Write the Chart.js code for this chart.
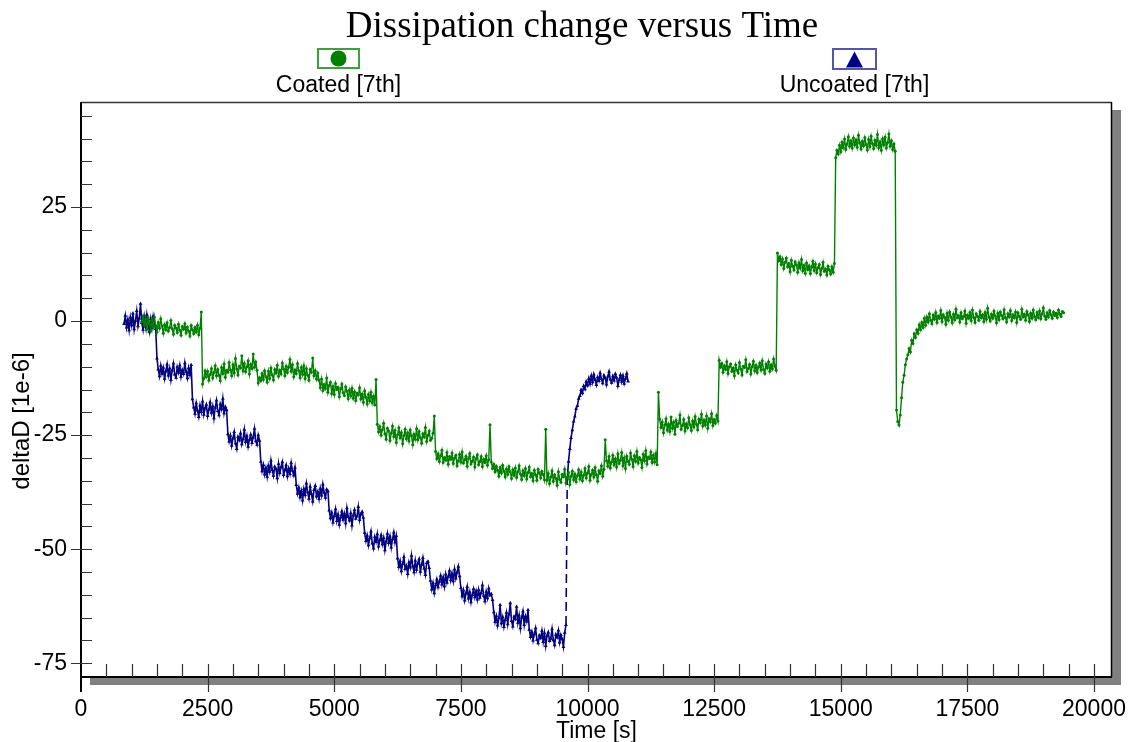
<!DOCTYPE html>
<html><head><meta charset="utf-8">
<script src="https://cdn.jsdelivr.net/npm/chart.js@4.4.0/dist/chart.umd.min.js"></script>
<style>html,body{margin:0;padding:0;background:#fff}#wrap{width:1128px;height:742px;position:relative}</style>
</head><body><div id="wrap"><canvas id="c" width="1128" height="742"></canvas></div>
<script>
const chartTitle = 'Dissipation change versus Time';
const xTitle = 'Time [s]';
const yTitle = 'deltaD [1e-6]';
const seriesNames = ['Coated [7th]', 'Uncoated [7th]'];
const seriesColors = ['#008000', '#000080'];

// sampling of the measurement: first time stamp and interval in seconds
const coatedStart = 1200, coatedStep = 25;
const coatedValues = [
 -0.2,1.1,-0.9,0.4,-1.8,0.7,-0.6,-2.1,0.2,-1.3,0.9,-1.0,-2.4,-0.3,-1.6,0.5,-1.1,-2.7,-0.8,-1.9,-0.4,-2.2,-1.4,0.1,
 -1.7,-2.9,-0.9,-1.5,-2.5,-0.7,-2.0,-3.1,-1.2,-1.8,-0.6,-2.6,-1.3,-2.2,-3.3,-1.0,-1.9,-2.8,-1.4,-2.4,-0.9,-3.0,-1.6,2.0,
 -13.8,-12.6,-10.9,-12.2,-11.0,-13.0,-11.7,-10.4,-12.5,-11.3,-9.8,-12.0,-10.6,-11.9,-13.1,-10.2,-11.5,-9.4,-12.3,-10.8,-11.2,-9.1,
 -10.7,-12.0,-9.6,-11.4,-8.2,-10.5,-11.8,-9.9,-10.3,-7.6,-10.9,-9.3,-11.1,-10.0,-8.7,-11.6,-9.5,-10.4,-7.2,-10.1,-9.0,-10.8,
 -13.6,-12.4,-13.1,-11.5,-12.8,-10.9,-12.2,-13.4,-11.0,-12.6,-10.3,-11.8,-12.9,-10.6,-11.4,-9.7,-12.1,-10.8,-11.6,-9.2,-10.5,-12.0,-9.9,-11.3,
 -10.1,-8.4,-11.0,-9.6,-12.2,-10.7,-11.5,-9.3,-10.9,-12.4,-10.2,-11.7,-9.8,-12.6,-10.4,-11.9,-13.0,-10.6,-11.2,-8.1,-12.0,-10.9,-12.7,-11.4,
 -13.0,-14.6,-12.7,-15.2,-13.9,-14.8,-12.5,-15.6,-14.1,-13.4,-15.9,-14.3,-16.1,-13.7,-15.0,-14.5,-16.6,-14.9,-13.8,-15.7,-16.3,-14.4,-15.4,
 -17.0,-15.1,-16.4,-14.7,-16.9,-15.5,-17.4,-15.8,-16.2,-14.6,-17.1,-16.0,-17.8,-15.3,-16.7,-18.2,-16.1,-17.5,-15.6,-17.9,-16.5,-18.4,-12.8,
 -22.6,-24.3,-23.1,-25.0,-23.8,-22.4,-24.7,-25.9,-23.5,-24.1,-26.2,-24.6,-23.0,-25.3,-24.0,-26.6,-24.9,-23.4,-25.6,-24.4,-26.9,-25.1,-23.7,
 -25.8,-24.5,-26.3,-23.9,-25.2,-27.1,-24.8,-25.9,-23.6,-26.0,-24.2,-25.5,-26.8,-24.7,-25.4,-23.3,-26.4,-25.0,-24.1,-26.1,-25.7,-24.6,-20.8,
 -28.6,-30.2,-29.1,-30.8,-29.5,-28.3,-31.0,-29.9,-30.5,-28.8,-31.4,-29.7,-30.3,-28.9,-31.2,-30.0,-29.4,-31.7,-30.6,-29.2,-30.9,-28.7,
 -31.1,-30.4,-29.6,-31.8,-30.1,-29.0,-31.3,-30.7,-29.8,-32.0,-30.2,-29.3,-31.5,-30.8,-29.7,-31.9,-30.3,-31.0,-29.5,-31.6,-30.4,-22.7,
 -30.9,-32.3,-31.4,-33.0,-31.8,-32.7,-34.0,-32.1,-33.3,-31.6,-32.9,-34.2,-32.4,-33.6,-31.9,-33.1,-34.5,-32.6,-33.8,-32.2,-34.3,-33.0,
 -31.7,-33.5,-34.7,-32.8,-33.9,-32.3,-34.6,-33.2,-32.0,-34.1,-33.4,-35.0,-32.7,-33.7,-34.9,-32.5,-33.3,-34.4,-32.9,-33.6,-34.8,-23.7,
 -34.9,-33.4,-35.6,-34.2,-32.8,-35.1,-33.7,-34.5,-36.0,-33.0,-34.7,-35.3,-33.6,-34.1,-32.5,-35.5,-34.3,-33.2,-35.8,-34.0,-32.9,-34.8,-33.5,
 -35.2,-33.9,-32.6,-34.6,-33.1,-35.0,-33.8,-32.3,-34.4,-33.3,-31.9,-34.9,-33.6,-32.7,-34.2,-32.1,-33.7,-35.1,-32.8,-33.4,-31.7,-34.0,-32.5,
 -26.0,-30.6,-31.8,-29.7,-32.2,-30.9,-29.4,-31.5,-30.2,-32.0,-29.1,-31.2,-30.5,-28.8,-31.7,-30.0,-32.3,-29.6,-30.8,-31.4,-28.9,
 -30.3,-31.9,-29.5,-30.7,-28.6,-31.1,-29.9,-30.4,-32.1,-29.2,-30.6,-28.4,-31.3,-29.8,-30.1,-28.7,-31.0,-29.4,-30.9,-29.0,-31.5,
 -15.6,-21.5,-23.3,-22.1,-24.5,-22.8,-21.4,-23.9,-22.6,-24.2,-21.0,-23.5,-22.2,-24.8,-21.8,-23.1,-22.4,-20.6,-23.7,-22.9,-21.6,-24.1,-22.5,-23.4,
 -21.2,-22.7,-24.0,-21.9,-23.2,-20.9,-22.6,-23.8,-21.5,-22.3,-20.4,-23.0,-21.7,-22.8,-20.8,-23.5,-21.4,-22.1,-20.3,-22.9,-21.6,-22.4,-20.7,-21.9,
 -8.6,-10.1,-9.3,-11.2,-9.8,-10.6,-8.9,-11.5,-10.0,-9.4,-11.0,-10.3,-12.0,-9.6,-10.8,-11.4,-9.1,-10.5,-11.8,-9.9,-10.2,-8.5,-11.1,
 -10.4,-9.5,-11.6,-10.0,-8.8,-10.9,-9.7,-11.3,-10.1,-9.2,-10.7,-8.7,-10.6,-11.5,-9.4,-10.3,-8.9,-11.0,-9.6,-10.5,-8.3,-9.9,-10.8,
 14.9,13.2,14.1,12.4,13.6,11.5,12.9,13.8,11.9,12.6,10.8,13.3,12.0,11.2,13.0,12.3,10.7,12.8,11.6,13.5,11.0,12.2,10.5,
 12.7,11.3,12.1,10.4,11.8,13.1,11.1,12.5,10.6,11.7,12.4,10.2,11.5,12.9,10.9,11.4,10.1,12.0,11.2,10.3,11.9,10.7,12.6,
 35.8,37.4,36.6,38.5,37.1,39.2,38.0,39.9,37.6,38.8,40.4,38.3,39.5,37.9,40.1,38.6,39.7,38.1,40.7,39.0,37.7,39.4,38.4,40.2,
 38.7,37.5,39.8,38.2,40.5,38.9,37.8,39.6,38.5,40.9,38.0,39.3,37.4,39.9,38.6,40.3,37.9,39.1,41.0,38.3,39.5,37.6,38.8,37.2,
 -19.5,-22.0,-22.8,-20.6,-16.8,-13.4,-11.9,-9.6,-8.3,-7.4,-6.0,-6.8,-4.2,-4.9,-2.8,-3.6,-1.9,-2.7,-0.8,-1.9,
 -0.3,-1.4,0.6,-0.9,0.9,-0.2,1.6,0.2,-0.6,1.3,
 0.4,1.9,-0.3,1.1,0.6,2.3,-0.1,1.4,0.8,-0.7,1.7,0.2,2.0,0.9,-0.4,1.5,0.3,2.6,0.7,1.2,
 -0.2,1.8,0.5,1.0,2.2,-0.5,1.3,0.6,1.9,0.1,2.4,0.8,-0.3,1.6,1.0,0.2,2.1,0.7,1.4,-0.1,
 1.9,0.4,2.8,0.9,0.0,1.5,0.6,2.2,1.1,-0.4,1.7,0.3,2.0,1.2,0.5,2.5,0.8,-0.2,1.6,0.9,
 2.3,0.1,1.4,0.7,2.0,-0.3,1.8,1.0,0.4,2.6,0.9,1.5,0.2,2.1,1.3,-0.1,1.7,0.6,2.4,1.0,
 0.3,1.9,0.8,2.2,0.5,1.6,2.9,1.1,0.4,1.8,0.9,2.3,1.4,0.6,2.0,1.2,1.7,0.8,2.4,1.5,
 1.0,2.1,1.8
];

const uncoatedStart = 850, uncoatedStep = 25;
const uncoatedValues = [
 -0.6,1.2,-1.4,0.3,-2.0,0.8,-0.9,1.7,-1.8,0.1,2.2,-1.1,0.6,3.8,-0.4,-1.9,0.9,-1.2,1.4,-0.7,-2.3,0.4,-1.5,1.0,-0.8,-1.7,
 -8.2,-10.6,-12.1,-9.8,-11.5,-10.2,-12.6,-11.0,-9.5,-11.9,-10.4,-12.9,-10.8,-9.3,-11.7,-12.4,-10.1,-11.3,-9.7,-12.2,-10.7,-11.6,-9.2,-11.1,-12.5,-10.3,-11.8,-9.6,
 -17.1,-18.9,-20.3,-18.0,-19.6,-21.0,-18.5,-19.9,-17.6,-20.5,-19.1,-18.3,-20.8,-19.4,-17.8,-20.1,-18.7,-21.3,-19.0,-17.4,-19.7,-20.6,-18.2,-19.3,-17.0,-20.2,-18.8,-19.5,
 -24.8,-26.4,-25.1,-27.3,-25.7,-24.3,-26.8,-28.0,-25.4,-26.1,-24.6,-27.0,-25.9,-23.8,-26.5,-25.2,-27.5,-26.0,-24.9,-26.7,-25.5,-23.6,-26.3,-27.1,-25.0,-26.2,
 -30.8,-32.9,-31.5,-33.6,-32.2,-34.1,-31.7,-33.0,-30.6,-32.6,-33.9,-31.9,-32.4,-34.4,-31.3,-33.3,-32.0,-30.9,-33.7,-32.7,-31.6,-34.0,-32.3,-33.5,-31.1,-32.8,-33.8,-32.1,
 -35.9,-37.8,-36.5,-38.6,-37.2,-39.3,-36.8,-38.1,-35.6,-37.5,-38.9,-36.3,-37.9,-39.5,-37.0,-36.1,-38.4,-37.4,-39.0,-36.7,-38.2,-35.8,-37.6,-38.7,-36.9,-37.3,
 -41.5,-43.2,-42.0,-44.1,-42.7,-41.2,-43.8,-42.4,-44.6,-43.0,-41.7,-43.5,-42.2,-44.3,-41.0,-42.9,-43.7,-42.1,-44.8,-42.6,-41.4,-43.3,-42.8,-40.7,-43.6,-42.3,-41.8,-43.1,
 -46.4,-48.2,-47.0,-49.1,-47.6,-46.1,-48.7,-49.8,-47.3,-48.4,-46.7,-49.4,-48.0,-46.9,-48.9,-47.5,-50.2,-48.3,-46.6,-48.6,-47.2,-49.6,-47.8,-46.3,-48.5,-47.1,
 -52.0,-53.9,-52.6,-54.8,-53.2,-51.7,-54.3,-53.6,-55.4,-52.9,-54.0,-51.4,-53.7,-55.0,-52.5,-54.5,-53.1,-52.2,-54.9,-53.4,-51.9,-54.2,-55.6,-53.0,-52.7,-54.1,
 -56.9,-58.8,-57.4,-59.6,-57.9,-56.6,-58.3,-57.1,-55.8,-57.7,-56.2,-58.1,-55.5,-57.3,-56.0,-54.7,-56.8,-55.3,-57.0,-54.4,-56.4,-55.1,-53.8,-55.9,
 -58.5,-60.3,-59.0,-61.2,-59.7,-58.2,-60.8,-59.4,-61.6,-60.0,-58.7,-60.5,-59.2,-61.0,-58.9,-60.6,-59.6,-57.9,-60.2,-61.4,-59.3,-60.7,-58.6,-60.1,-59.8,-61.1,
 -63.8,-65.9,-64.6,-66.7,-65.1,-62.2,-66.2,-64.9,-67.0,-65.5,-63.9,-66.4,-64.3,-61.8,-65.7,-66.9,-64.8,-65.3,-62.6,-66.1,-64.5,-67.3,-65.0,-63.6,-66.6,-64.7,-65.8,-63.3,
 -67.6,-69.2,-68.1,-70.0,-68.6,-67.3,-69.8,-70.6,-68.9,-69.5,-67.9,-70.3,-68.4,-71.2,-69.0,-68.2,-70.1,-69.6,-67.5,-69.9,-71.0,-68.7,-69.3,-67.8,-70.4,-68.8,-69.7,-71.4,-68.3,-66.6,
 -34.5,-30.8,-28.0,-25.6,-23.9,-22.0,-20.9,-19.2,-18.6,-17.0,-16.4,-15.1,-15.8,-14.2,-14.9,-13.3,-14.1,
 -12.6,-13.8,-12.0,-13.4,-11.7,-12.9,-14.0,-12.3,-13.1,-11.4,-12.7,-13.6,-11.9,-12.5,-13.9,-12.2,-11.1,-12.8,-13.5,-12.1,-13.0,-11.6,-12.4,-14.2,-12.9,-11.8,-13.3,-12.0,-13.7,-12.6,-11.5,-13.2
];

const xTickValues = [0, 2500, 5000, 7500, 10000, 12500, 15000, 17500, 20000];
const yTickValues = [-75, -50, -25, 0, 25];
const xRange = [0, 20355];
const yRange = [-78, 48];

const toPoints = (start, step, vals) => vals.map((v, i) => ({x: start + i * step, y: v}));

const FONT = '"Liberation Sans", Arial, sans-serif';

const decor = {
  id: 'decor',
  beforeDraw(chart) {
    const {ctx, chartArea: a} = chart;
    ctx.save();
    ctx.fillStyle = '#fff';
    ctx.fillRect(0, 0, chart.width, chart.height);
    ctx.fillStyle = '#808080';
    ctx.fillRect(a.left + 9, a.bottom, a.right - a.left, 8);
    ctx.fillRect(a.right, a.top + 8, 9, a.bottom - a.top);
    ctx.restore();
  },
  afterDraw(chart) {
    const {ctx, chartArea: a, scales} = chart;
    const xs = scales.x, ys = scales.y;
    ctx.save();
    // frame
    ctx.strokeStyle = '#333';
    ctx.lineWidth = 1.5;
    ctx.beginPath();
    ctx.moveTo(a.left, a.top + 0.5); ctx.lineTo(a.right, a.top + 0.5);
    ctx.stroke();
    ctx.strokeStyle = '#000';
    ctx.beginPath();
    ctx.moveTo(a.right - 0.5, a.top); ctx.lineTo(a.right - 0.5, a.bottom);
    ctx.stroke();
    ctx.lineWidth = 2;
    ctx.beginPath();
    ctx.moveTo(a.left, a.top); ctx.lineTo(a.left, a.bottom + 15);
    ctx.moveTo(a.left, a.bottom); ctx.lineTo(a.right, a.bottom);
    ctx.stroke();
    // tick marks
    ctx.strokeStyle = '#333';
    ctx.lineWidth = 1.2;
    ctx.beginPath();
    for (let v = 500; v <= 20000; v += 500) {
      const px = Math.round(xs.getPixelForValue(v)) + 0.5;
      const major = v % 2500 === 0;
      ctx.moveTo(px, a.bottom - 13);
      ctx.lineTo(px, major ? a.bottom + 15 : a.bottom);
    }
    for (let v = -75; v <= 45; v += 5) {
      const py = Math.round(ys.getPixelForValue(v)) + 0.5;
      const major = v % 25 === 0;
      ctx.moveTo(major ? a.left - 10 : a.left, py);
      ctx.lineTo(a.left + 11, py);
    }
    ctx.stroke();
    // title
    ctx.fillStyle = '#000';
    ctx.font = '37px "Liberation Serif", "Times New Roman", serif';
    ctx.textAlign = 'center';
    ctx.textBaseline = 'alphabetic';
    ctx.fillText(chartTitle, 582, 37);
    // legend
    const ds = chart.data.datasets;
    const boxes = [[318, 49, 41, 19], [833, 49, 43, 20]];
    ds.forEach((d, i) => {
      const [bx, by, bw, bh] = boxes[i];
      ctx.lineWidth = 2;
      ctx.strokeStyle = i === 0 ? '#3f9f3f' : '#5555aa';
      ctx.strokeRect(bx, by, bw, bh);
      ctx.fillStyle = d.borderColor;
      const cx = bx + bw / 2, cy = by + bh / 2;
      ctx.beginPath();
      if (i === 0) {
        ctx.arc(cx, cy, 8, 0, Math.PI * 2);
      } else {
        ctx.moveTo(cx, cy - 7.5); ctx.lineTo(cx + 8.5, cy + 8.5); ctx.lineTo(cx - 8.5, cy + 8.5); ctx.closePath();
      }
      ctx.fill();
      ctx.fillStyle = '#000';
      ctx.font = '23px ' + FONT;
      ctx.textAlign = 'center';
      ctx.textBaseline = 'middle';
      ctx.fillText(d.label, cx, 86);
    });
    // y axis title
    ctx.save();
    ctx.translate(22, 421);
    ctx.rotate(-Math.PI / 2);
    ctx.font = '24px ' + FONT;
    ctx.textAlign = 'center';
    ctx.textBaseline = 'middle';
    ctx.fillText(yTitle, 0, 0);
    ctx.restore();
    ctx.restore();
  }
};

new Chart(document.getElementById('c'), {
  type: 'line',
  data: {
    datasets: [
      {
        label: seriesNames[0],
        data: toPoints(coatedStart, coatedStep, coatedValues),
        borderColor: seriesColors[0],
        backgroundColor: seriesColors[0],
        borderWidth: 1.4,
        pointRadius: 1.5,
        pointBorderWidth: 0,
        pointStyle: 'circle',
        tension: 0,
        fill: false
      },
      {
        label: seriesNames[1],
        data: toPoints(uncoatedStart, uncoatedStep, uncoatedValues),
        borderColor: seriesColors[1],
        backgroundColor: seriesColors[1],
        borderWidth: 1.6,
        pointRadius: 2.2,
        pointBorderWidth: 0,
        pointStyle: 'triangle',
        tension: 0,
        fill: false,
        segment: {
          borderDash: ctx => (ctx.p1.parsed.y - ctx.p0.parsed.y > 20 ? [9, 5] : undefined)
        }
      }
    ]
  },
  options: {
    responsive: false,
    animation: false,
    devicePixelRatio: 1,
    layout: {padding: {top: 102, right: 16, left: 0, bottom: 0}},
    plugins: {legend: {display: false}, title: {display: false}, tooltip: {enabled: false}},
    scales: {
      x: {
        type: 'linear',
        min: xRange[0], max: xRange[1],
        afterFit: s => { s.height = 65; s.paddingLeft = 0; s.paddingRight = 0; },
        afterBuildTicks: s => { s.ticks = xTickValues.map(v => ({value: v})); },
        grid: {display: false, drawTicks: false},
        border: {display: false},
        ticks: {color: '#000', font: {family: FONT, size: 23}, padding: 19, maxRotation: 0, autoSkip: false,
                callback: v => String(v)},
        title: {display: true, text: xTitle, color: '#000', font: {family: FONT, size: 23, lineHeight: 0.9}, padding: {top: 0, bottom: 0}}
      },
      y: {
        type: 'linear',
        min: yRange[0], max: yRange[1],
        afterFit: s => { s.width = 81; s.paddingTop = 0; s.paddingBottom = 0; },
        afterBuildTicks: s => { s.ticks = yTickValues.map(v => ({value: v})); },
        grid: {display: false, drawTicks: false},
        border: {display: false},
        ticks: {color: '#000', font: {family: FONT, size: 23}, padding: 14, callback: v => String(v)}
      }
    }
  },
  plugins: [decor]
});
</script>
</body></html>
